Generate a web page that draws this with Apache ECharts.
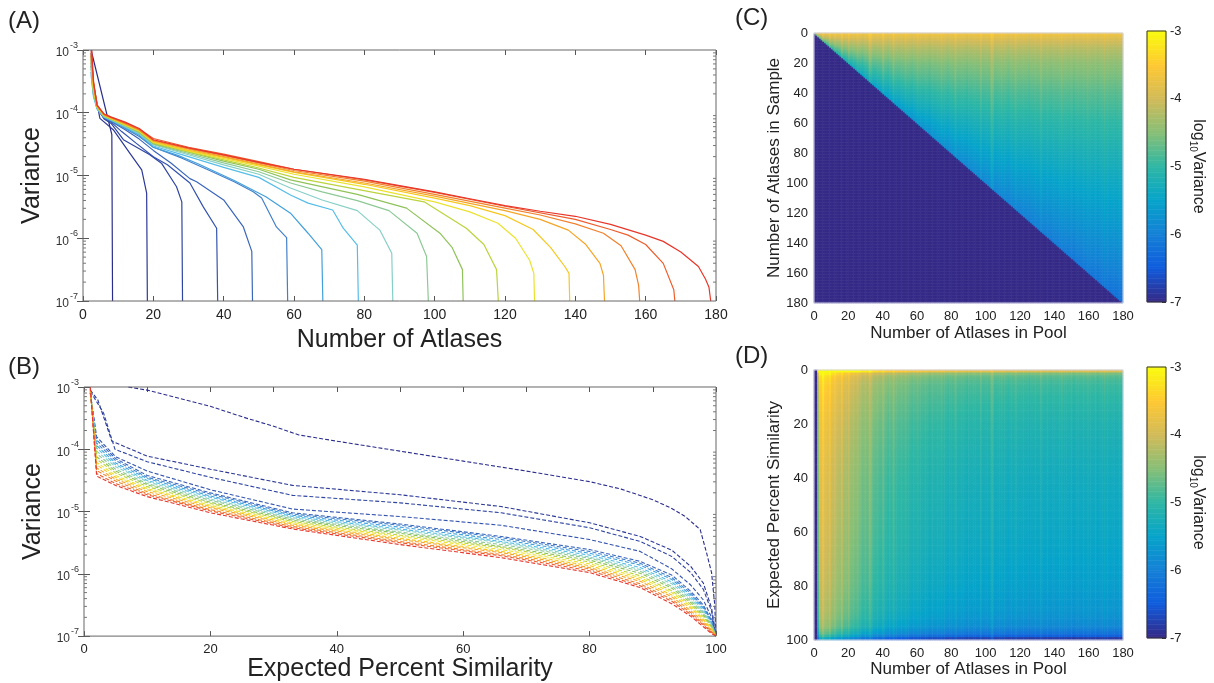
<!DOCTYPE html>
<html><head><meta charset="utf-8">
<script src="https://cdn.jsdelivr.net/npm/echarts/dist/echarts.min.js"></script>
<style>html,body{margin:0;padding:0;background:#fff}#c{width:1214px;height:683px}</style>
</head><body><div id="c"></div><script>
const FONT = '"Liberation Sans", Arial, Helvetica, sans-serif';

// ---------- shared ----------
const poolSizes = [8,18,28,38,48,58,68,78,88,98,108,118,128,138,148,158,168,178];
const poolColors = ['#2a2d8c','#2c3896','#2f45a2','#3353ae','#3a66bc','#4380cb','#42a0dc','#55bde8','#86cfc6','#8cc995','#8fc35a','#bcd33c','#ebe22f','#f6c71f','#f5a526','#f2812c','#ee5c2c','#e8362b'];
const parula = ['#352a87','#0f5cdd','#1481d6','#06a4ca','#2eb7a4','#87bf77','#d1bb59','#fec832','#f9fb0e'];
const logMinorMult = [2,3,4,5,6,7,8,9];
const logDecades = [-7,-6,-5,-4];

// ---------- Panel A: [number of atlases, log10 variance] ----------
const aVar8   = [[2.3,-3.0],[8.2,-4.35],[8.4,-7]];
const aVar18  = [[2.3,-3.05],[3,-3.55],[4.8,-4.09],[8.6,-4.27],[13.4,-4.65],[16.7,-4.91],[18.1,-5.28],[18.3,-7]];
const aVar28  = [[2.3,-3.1],[3,-3.6],[4,-3.92],[6,-4.1],[8,-4.17],[11.5,-4.43],[19,-4.67],[22.4,-4.81],[26.6,-5.18],[28.1,-5.42],[28.3,-7]];
const aVar38  = [[2.3,-3.15],[3,-3.65],[4,-3.92],[6,-4.09],[8,-4.15],[11,-4.3],[15,-4.48],[20,-4.7],[24,-4.83],[30.4,-5.12],[34.2,-5.5],[38,-5.84],[38.3,-7]];
const aVar48  = [[2.3,-3.2],[3,-3.68],[4,-3.93],[6,-4.08],[8,-4.14],[12,-4.27],[16,-4.42],[20,-4.6],[25,-4.8],[30.4,-5.05],[32.3,-5.1],[40,-5.39],[45.6,-5.82],[48,-6.21],[48.2,-7]];
const aVar58  = [[2.3,-3.25],[3,-3.7],[4,-3.93],[6,-4.08],[8,-4.13],[12,-4.25],[16,-4.38],[20,-4.55],[28,-4.72],[36,-4.92],[43,-5.1],[48.4,-5.26],[50.8,-5.36],[55,-5.82],[57.9,-5.99],[58.2,-7]];
const aVar68  = [[2.3,-3.35],[3,-3.72],[4,-3.93],[6,-4.07],[8,-4.12],[12,-4.24],[16,-4.36],[20,-4.55],[27,-4.68],[33,-4.82],[43,-5.08],[52,-5.34],[59,-5.6],[64,-5.92],[67.9,-6.18],[68.2,-7]];
const aVar78  = [[2.3,-3.4],[3,-3.75],[4,-3.94],[6,-4.07],[8,-4.12],[12,-4.23],[16,-4.34],[20,-4.53],[30,-4.7],[40,-4.87],[50,-5.03],[59,-5.31],[64,-5.44],[71,-5.55],[74,-5.84],[78,-6.11],[78.3,-7]];
const aVar88  = [[2.3,-3.35],[3,-3.72],[4,-3.93],[6,-4.06],[8,-4.11],[12,-4.22],[16,-4.33],[20,-4.51],[30,-4.67],[40,-4.83],[50,-4.98],[59,-5.2],[68,-5.39],[78,-5.56],[84.4,-5.87],[87.8,-6.24],[88.1,-7]];
const aVar98  = [[2.3,-3.3],[3,-3.7],[4,-3.92],[6,-4.06],[8,-4.11],[12,-4.21],[16,-4.32],[20,-4.5],[30,-4.65],[40,-4.8],[50,-4.94],[59,-5.12],[68,-5.26],[78,-5.4],[87,-5.56],[95,-5.92],[97.7,-6.29],[98.2,-7]];
const aVar108 = [[2.3,-3.25],[3,-3.68],[4,-3.91],[6,-4.05],[8,-4.1],[12,-4.2],[16,-4.31],[20,-4.49],[30,-4.63],[40,-4.77],[50,-4.9],[59,-5.07],[78,-5.3],[92,-5.52],[101.5,-5.92],[105,-6.15],[107.9,-6.5],[108.1,-7]];
const aVar118 = [[2.3,-3.2],[3,-3.65],[4,-3.91],[6,-4.05],[8,-4.1],[12,-4.2],[16,-4.3],[20,-4.48],[30,-4.62],[40,-4.75],[50,-4.88],[60,-5.03],[78,-5.22],[97,-5.42],[109,-5.84],[114,-6.1],[117.6,-6.5],[118.1,-7]];
const aVar128 = [[2.3,-3.15],[3,-3.62],[4,-3.9],[6,-4.04],[8,-4.09],[12,-4.19],[16,-4.29],[20,-4.47],[30,-4.61],[40,-4.73],[50,-4.85],[60,-4.98],[80,-5.18],[100,-5.42],[110,-5.58],[118,-5.76],[123,-6.0],[127,-6.35],[128.2,-6.56],[128.4,-7]];
const aVar138 = [[2.3,-3.1],[3,-3.6],[4,-3.9],[6,-4.04],[8,-4.09],[12,-4.18],[16,-4.28],[20,-4.46],[30,-4.6],[40,-4.71],[50,-4.83],[60,-4.95],[80,-5.14],[100,-5.36],[110,-5.48],[120,-5.64],[128,-5.86],[133,-6.15],[137,-6.45],[138.2,-6.56],[138.4,-7]];
const aVar148 = [[2.3,-3.08],[3,-3.58],[4,-3.89],[6,-4.03],[8,-4.08],[12,-4.18],[16,-4.28],[20,-4.45],[30,-4.58],[40,-4.7],[50,-4.82],[60,-4.94],[80,-5.12],[100,-5.33],[120,-5.56],[130,-5.7],[138,-5.87],[143,-6.1],[147,-6.4],[148,-6.59],[148.3,-7]];
const aVar158 = [[2.3,-3.05],[3,-3.55],[4,-3.89],[6,-4.03],[8,-4.08],[12,-4.17],[16,-4.27],[20,-4.44],[30,-4.57],[40,-4.68],[50,-4.8],[60,-4.92],[80,-5.09],[100,-5.3],[120,-5.52],[130,-5.63],[140,-5.77],[148,-5.92],[153,-6.12],[157,-6.5],[158,-6.75],[158.3,-7]];
const aVar168 = [[2.3,-3.02],[3,-3.52],[4,-3.88],[6,-4.02],[8,-4.07],[12,-4.16],[16,-4.26],[20,-4.41],[30,-4.55],[40,-4.66],[50,-4.78],[60,-4.9],[80,-5.07],[100,-5.27],[120,-5.49],[140,-5.7],[150,-5.86],[155,-5.95],[160,-6.1],[165,-6.4],[168,-6.82],[168.3,-7]];
const aVar178 = [[2.5,-3.0],[3,-3.5],[4,-3.88],[6,-4.02],[8,-4.07],[12,-4.15],[16,-4.25],[20,-4.43],[30,-4.56],[40,-4.67],[50,-4.79],[60,-4.9],[70,-4.98],[80,-5.06],[90,-5.16],[100,-5.26],[110,-5.37],[120,-5.48],[130,-5.57],[140,-5.65],[150,-5.78],[160,-5.95],[165,-6.05],[170,-6.22],[175,-6.45],[177,-6.65],[178,-6.78],[178.5,-7]];
const aCurves = [aVar8,aVar18,aVar28,aVar38,aVar48,aVar58,aVar68,aVar78,aVar88,aVar98,aVar108,aVar118,aVar128,aVar138,aVar148,aVar158,aVar168,aVar178];

// ---------- Panel B: [expected percent similarity, log10 variance] ----------
const bVar8  = [[7,-3.0],[10,-3.05],[20,-3.31],[25.7,-3.5],[30,-3.63],[34,-3.77],[40,-3.87],[50,-4.03],[60,-4.19],[70,-4.35],[80,-4.52],[85,-4.64],[90,-4.81],[93,-4.95],[95,-5.07],[96.5,-5.2],[97.5,-5.29],[98.5,-5.66],[99.3,-5.98],[99.8,-6.5],[100,-7]];
const bVar18 = [[1,-3.05],[2.2,-3.21],[4.4,-3.87],[10,-4.11],[20,-4.32],[33,-4.58],[50,-4.73],[66,-4.92],[80,-5.18],[88,-5.4],[93,-5.62],[96,-5.88],[98,-6.15],[99.3,-6.55],[100,-7]];
const bVar28 = [[1,-3.07],[3.1,-3.42],[4.9,-4.0],[10,-4.2],[20,-4.45],[33,-4.74],[50,-4.86],[66,-5.02],[80,-5.26],[88,-5.48],[93,-5.72],[96,-5.98],[98,-6.25],[99.3,-6.6],[100,-7]];
const bVar38 = [[1,-3.1],[2,-3.8],[5,-4.12],[10,-4.35],[20,-4.65],[33,-4.96],[50,-5.08],[66,-5.22],[80,-5.45],[88,-5.64],[93,-5.92],[96,-6.18],[98,-6.42],[99.3,-6.7],[100,-7]];
const bSimGrid = [1,2,5,10,20,33,50,66,80,88,93,96,98,99.3,100];
const bVar48  = [-3.10,-3.85,-4.15,-4.42,-4.70,-5.02,-5.20,-5.40,-5.61,-5.80,-6.02,-6.28,-6.50,-6.75,-7];
const bVar58  = [-3.10,-3.90,-4.18,-4.45,-4.72,-5.04,-5.22,-5.42,-5.64,-5.83,-6.06,-6.31,-6.53,-6.77,-7];
const bVar68  = [-3.09,-3.94,-4.22,-4.47,-4.75,-5.06,-5.25,-5.45,-5.67,-5.86,-6.09,-6.34,-6.55,-6.78,-7];
const bVar78  = [-3.08,-3.98,-4.25,-4.50,-4.77,-5.08,-5.28,-5.48,-5.70,-5.90,-6.13,-6.37,-6.58,-6.80,-7];
const bVar88  = [-3.07,-4.03,-4.28,-4.52,-4.80,-5.10,-5.30,-5.50,-5.73,-5.93,-6.16,-6.40,-6.61,-6.82,-7];
const bVar98  = [-3.06,-4.07,-4.32,-4.55,-4.82,-5.12,-5.33,-5.53,-5.75,-5.96,-6.20,-6.43,-6.63,-6.83,-7];
const bVar108 = [-3.06,-4.12,-4.35,-4.57,-4.85,-5.14,-5.35,-5.56,-5.78,-5.99,-6.23,-6.46,-6.66,-6.85,-7];
const bVar118 = [-3.05,-4.16,-4.38,-4.60,-4.87,-5.16,-5.38,-5.58,-5.81,-6.03,-6.27,-6.49,-6.69,-6.86,-7];
const bVar128 = [-3.04,-4.21,-4.42,-4.63,-4.90,-5.18,-5.40,-5.61,-5.84,-6.06,-6.30,-6.52,-6.72,-6.88,-7];
const bVar138 = [-3.04,-4.25,-4.45,-4.65,-4.92,-5.20,-5.43,-5.64,-5.87,-6.09,-6.34,-6.55,-6.74,-6.90,-7];
const bVar148 = [-3.03,-4.30,-4.48,-4.68,-4.94,-5.22,-5.45,-5.66,-5.90,-6.12,-6.37,-6.59,-6.77,-6.91,-7];
const bVar158 = [-3.02,-4.34,-4.51,-4.71,-4.97,-5.24,-5.48,-5.69,-5.92,-6.16,-6.41,-6.62,-6.80,-6.93,-7];
const bVar168 = [-3.01,-4.39,-4.55,-4.73,-4.99,-5.26,-5.50,-5.71,-5.95,-6.19,-6.44,-6.65,-6.82,-6.94,-7];
const bVar178 = [-3.00,-4.43,-4.58,-4.76,-5.02,-5.28,-5.53,-5.74,-5.98,-6.22,-6.48,-6.68,-6.85,-6.96,-7];
const bGridCurves = [bVar48,bVar58,bVar68,bVar78,bVar88,bVar98,bVar108,bVar118,bVar128,bVar138,bVar148,bVar158,bVar168,bVar178];
const bCurves = [bVar8,bVar18,bVar28,bVar38].concat(bGridCurves.map(v => v.map((y,i)=>[bSimGrid[i], y])));

// ---------- Panel C: log10 variance, pool size x sample size ----------
const cDepthK = [0,2,5,10,20,40,60,80,100,120,140,160,180];
const cDepthV = [-3.6,-3.75,-3.95,-4.15,-4.4,-4.65,-4.82,-4.93,-5.02,-5.1,-5.17,-5.24,-5.3];
const cRatio = [0,0.1,0.2,0.3,0.4,0.5,0.6,0.7,0.8,0.9,1.0];
const cRatioDrop = [0,-0.03,-0.08,-0.15,-0.22,-0.3,-0.39,-0.49,-0.6,-0.73,-0.9];
// per-pool column streaks seen in C and D
const poolStreaks = [[6,0.2],[10,0.15],[13,0.1],[17,0.18],[21,0.15],[26,0.1],[29,-0.06],[33,0.25],[34,0.15],[41,0.18],[44,-0.06],[47,0.2],[54,0.12],[58,-0.05],[61,0.1],[68,-0.08],[75,0.12],[79,-0.05],[83,0.15],[90,-0.08],[98,0.12],[104,0.25],[105,0.15],[110,0.1],[114,-0.06],[118,0.12],[126,-0.08],[133,0.12],[139,-0.05],[145,0.12],[152,-0.06],[160,0.08],[166,-0.05],[170,0.1],[176,-0.05]];

// ---------- Panel D: log10 variance, pool size x expected % similarity ----------
const dPoolN = [1,2,3,4,6,8,10,12,15,20,30,40,60,80,100,120,140,160,180];
const dPoolV = [-7,-7,-4.6,-3.85,-3.8,-3.85,-3.95,-4.05,-4.15,-4.3,-4.6,-4.85,-5.08,-5.2,-5.27,-5.3,-5.32,-5.33,-5.33];
const dSimP = [0,1,2,5,10,20,30,40,50,60,70,80,90,95,98,100];
const dSimV = [2.0,0.9,0.6,0.42,0.32,0.17,0.08,0,-0.05,-0.1,-0.17,-0.25,-0.38,-0.55,-0.9,-1.7];

// ---------- helpers ----------
function lerpTable(xs, ys, x){
  if (x <= xs[0]) return ys[0];
  for (let i=1;i<xs.length;i++){ if (x <= xs[i]) { const t=(x-xs[i-1])/(xs[i]-xs[i-1]); return ys[i-1]+t*(ys[i]-ys[i-1]); } }
  return ys[ys.length-1];
}
function streakAt(n){ for (const s of poolStreaks) if (s[0]===n) return s[1]; return 0; }
function clampV(v){ return Math.max(-7, Math.min(-3, v)); }

const cats180 = Array.from({length:180},(_,i)=>String(i+1));
const cats100 = Array.from({length:100},(_,i)=>String(i+1));
const cData = [];
for (let i=0;i<180;i++){ const n=i+1, st=streakAt(n);
  for (let j=0;j<180;j++){ const k=j+1;
    const v = k>n ? -7 : lerpTable(cDepthK,cDepthV,k-0.5)+lerpTable(cRatio,cRatioDrop,k/n)+st;
    cData.push([i,j,clampV(v)]); } }
const dData = [];
for (let i=0;i<180;i++){ const n=i+1, st=streakAt(n), base=lerpTable(dPoolN,dPoolV,n);
  for (let j=0;j<100;j++){ const p=j+0.5;
    const v = base<=-6.99 ? -7 : base+lerpTable(dSimP,dSimV,p)+st;
    dData.push([i,j,clampV(v)]); } }
const cbarCats = []; const cbarData = [];
for (let i=0;i<=160;i++){ cbarCats.push(String(i)); cbarData.push([0,i,-7+i*0.025]); }
const logMinorValues = [];
logDecades.forEach(e => logMinorMult.forEach(m => logMinorValues.push(m*Math.pow(10,e))));

// ---------- axes ----------
const supRich = {
  b:{fontSize:12,fontFamily:FONT,color:'#333',lineHeight:18,verticalAlign:'bottom'},
  s:{fontSize:9,fontFamily:FONT,color:'#333',lineHeight:10,verticalAlign:'top',padding:[0,0,0,1]}
};
const tickStyle = {color:'#555',width:1};
function logY(grid, pos, withLabel, name){
  const ax = {type:'log',logBase:10,gridIndex:grid,position:pos,min:1e-7,max:1e-3,splitNumber:4,
    axisLine:{show:false},splitLine:{show:false},
    axisTick:{show:true,inside:true,length:6,lineStyle:tickStyle},
    axisLabel:{show:withLabel,margin:5,formatter:v=>'{b|10}{s|'+Math.round(Math.log10(v))+'}',rich:supRich}};
  if (name){ Object.assign(ax,{name:name,nameLocation:'middle',nameGap:36,nameRotate:90,
    nameTextStyle:{fontSize:25,color:'#222',fontFamily:FONT}}); }
  return ax;
}
function valX(grid,pos,max,interval,showLabel,fs,name,gap,nfs,ticks){
  const ax = {type:'value',gridIndex:grid,position:pos,min:0,max:max,interval:interval,
    axisLine:{show:false},splitLine:{show:false},
    axisTick:{show:ticks,inside:true,length:5,lineStyle:tickStyle},
    axisLabel:{show:showLabel,fontSize:fs,color:'#222',fontFamily:FONT,margin:7}};
  if (name){ Object.assign(ax,{name:name,nameLocation:'middle',nameGap:gap,nameTextStyle:{fontSize:nfs,color:'#222',fontFamily:FONT}}); }
  return ax;
}
const hidden = (grid,pos,data,inv)=>({type:'category',gridIndex:grid,position:pos,data:data,show:false,inverse:!!inv,boundaryGap:true});

const xAxis = [
  valX(0,'bottom',180,20,true,14,'Number of Atlases',27,25,true),
  valX(0,'top',180,20,false,14,null,0,0,true),
  valX(1,'bottom',100,20,true,13,'Expected Percent Similarity',16,25,true),
  valX(1,'top',100,10,false,13,null,0,0,true),
  hidden(2,'top',cats180),
  valX(2,'bottom',180,20,true,13,'Number of Atlases in Pool',22,17,false),
  hidden(3,'top',cats180),
  valX(3,'bottom',180,20,true,13,'Number of Atlases in Pool',19,17,false),
  hidden(4,'bottom',['cb']),
  hidden(5,'bottom',['cb'])
];
function valY(grid,pos,max,name){
  return {type:'value',gridIndex:grid,position:pos,min:0,max:max,interval:20,inverse:true,
    axisLine:{show:false},splitLine:{show:false},axisTick:{show:false},
    axisLabel:{fontSize:13,color:'#222',fontFamily:FONT,margin:6},
    name:name,nameLocation:'middle',nameGap:30,nameRotate:90,nameTextStyle:{fontSize:17,color:'#222',fontFamily:FONT}};
}
function cbarY(grid){
  return {type:'value',gridIndex:grid,position:'right',min:-7,max:-3,interval:1,
    axisLine:{show:false},splitLine:{show:false},
    axisTick:{show:true,inside:true,length:4,lineStyle:{color:'#333'}},
    axisLabel:{fontSize:13,color:'#222',fontFamily:FONT,margin:4},
    name:'{a|log}{s|10}{a|Variance}',nameLocation:'middle',nameGap:22,nameRotate:-90,
    nameTextStyle:{rich:{a:{fontSize:16,fontFamily:FONT,color:'#222',lineHeight:20},s:{fontSize:10,fontFamily:FONT,color:'#222',lineHeight:10,verticalAlign:'bottom'}}}};
}
const yAxis = [
  logY(0,'left',true,'Variance'),
  logY(0,'right',false),
  logY(1,'left',true,'Variance'),
  logY(1,'right',false),
  hidden(2,'right',cats180,true),
  valY(2,'left',180,'Number of Atlases in Sample'),
  hidden(3,'right',cats100,true),
  valY(3,'left',100,'Expected Percent Similarity'),
  hidden(4,'left',cbarCats),
  cbarY(4),
  hidden(5,'left',cbarCats),
  cbarY(5)
];

// ---------- series ----------
const series = [];
aCurves.forEach((c,i)=>series.push({type:'line',xAxisIndex:0,yAxisIndex:0,silent:true,animation:false,
  symbol:'none',data:c.map(p=>[p[0],Math.pow(10,p[1])]),lineStyle:{color:poolColors[i],width:1.2},z:3+i*0.01}));
bCurves.forEach((c,i)=>series.push({type:'line',xAxisIndex:2,yAxisIndex:2,silent:true,animation:false,
  symbol:'none',data:c.map(p=>[p[0],Math.pow(10,p[1])]),lineStyle:{color:poolColors[i],width:1.1,type:[4,2]},z:3+i*0.01}));
function minorTicks(xi,yi,xMin,xMax){
  return {type:'custom',xAxisIndex:xi,yAxisIndex:yi,silent:true,animation:false,z:12,clip:false,
    data:logMinorValues.map(v=>[xMin,v]),
    renderItem:function(params,api){
      const v=api.value(1); const a=api.coord([xMin,v]), b=api.coord([xMax,v]);
      return {type:'group',children:[
        {type:'line',shape:{x1:a[0],y1:a[1],x2:a[0]+3,y2:a[1]},style:{stroke:'#777',lineWidth:1}},
        {type:'line',shape:{x1:b[0],y1:b[1],x2:b[0]-3,y2:b[1]},style:{stroke:'#777',lineWidth:1}}]};
    }};
}
series.push(minorTicks(0,0,0,180));
series.push(minorTicks(2,2,0,100));
const heatIdx = [];
function heat(xi,yi,data){ heatIdx.push(series.length);
  series.push({type:'heatmap',xAxisIndex:xi,yAxisIndex:yi,data:data,silent:true,animation:false,progressive:0,
    itemStyle:{borderWidth:0},emphasis:{disabled:true}}); }
heat(4,4,cData);
heat(6,6,dData);
heat(8,8,cbarData);
heat(9,10,cbarData);

const option = {
  backgroundColor:'#fff',
  animation:false,
  grid:[
    {left:83,top:50,width:633,height:251,show:true,borderColor:'#666',borderWidth:1,backgroundColor:'transparent',z:10},
    {left:84,top:387,width:632,height:250,show:true,borderColor:'#666',borderWidth:1,backgroundColor:'transparent',z:10},
    {left:814,top:33,width:309,height:270,show:true,borderColor:'#d4d4ea',borderWidth:1,backgroundColor:'transparent',z:10},
    {left:814,top:370,width:309,height:270,show:true,borderColor:'#d4d4ea',borderWidth:1,backgroundColor:'transparent',z:10},
    {left:1147,top:31,width:19,height:271,show:true,borderColor:'#333',borderWidth:1,backgroundColor:'transparent',z:10},
    {left:1147,top:367,width:19,height:271,show:true,borderColor:'#333',borderWidth:1,backgroundColor:'transparent',z:10}
  ],
  xAxis:xAxis, yAxis:yAxis,
  visualMap:{type:'continuous',show:false,min:-7,max:-3,dimension:2,seriesIndex:heatIdx,inRange:{color:parula}},
  graphic:[
    {type:'text',left:8,top:9,style:{text:'(A)',font:'24px '+FONT,fill:'#222'}},
    {type:'text',left:8,top:355,style:{text:'(B)',font:'24px '+FONT,fill:'#222'}},
    {type:'text',left:735,top:6,style:{text:'(C)',font:'24px '+FONT,fill:'#222'}},
    {type:'text',left:735,top:344,style:{text:'(D)',font:'24px '+FONT,fill:'#222'}}
  ],
  series:series
};
const chart = echarts.init(document.getElementById('c'),null,{renderer:'canvas'});
chart.setOption(option);
</script></body></html>
